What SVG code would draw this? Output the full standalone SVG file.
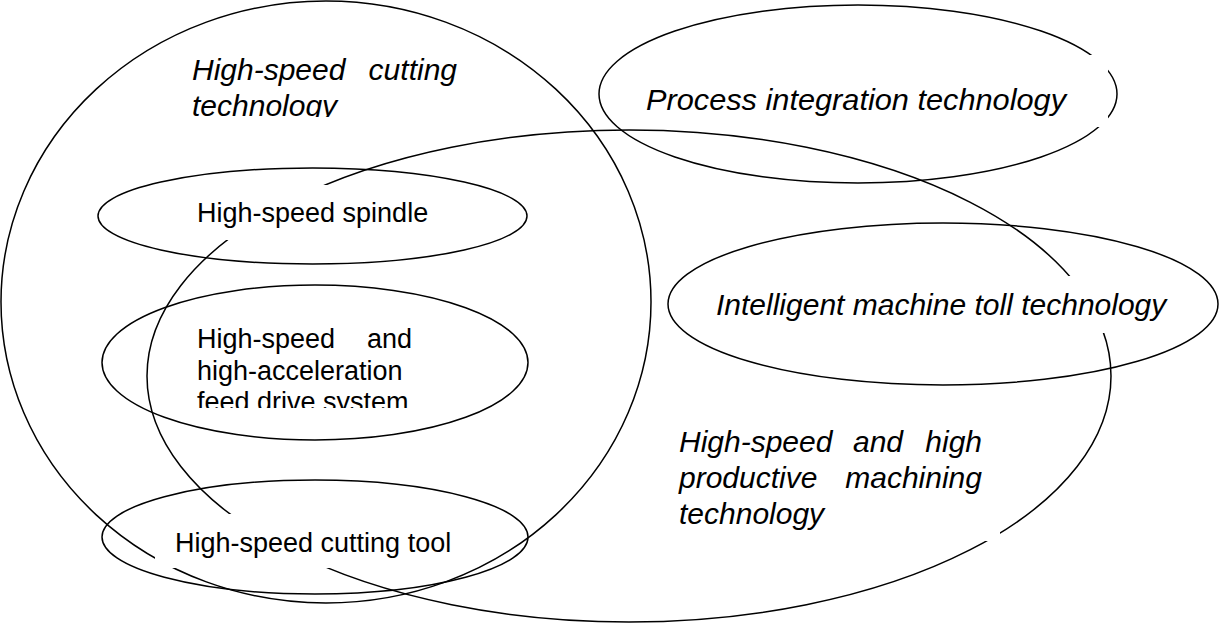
<svg xmlns="http://www.w3.org/2000/svg" width="1220" height="623" viewBox="0 0 1220 623">
<style>
.shape{fill:none;stroke:#000;stroke-width:1.5}
.lbl{font-family:"Liberation Sans",Arial,sans-serif;font-size:27px;fill:#000}
.it{font-family:"Liberation Sans",Arial,sans-serif;font-size:30px;font-style:italic;fill:#000}
</style>
<defs>
<mask id="boxes" maskUnits="userSpaceOnUse" x="0" y="0" width="1220" height="623">
<rect x="0" y="0" width="1220" height="623" fill="#fff"/>
<rect x="222" y="185" width="218" height="55" fill="#000"/>
<rect x="705" y="276" width="475" height="57" fill="#000"/>
<rect x="155" y="514" width="305" height="54" fill="#000"/>
<rect x="672" y="420" width="328" height="121" fill="#000"/>
<rect x="640" y="55" width="468" height="72" fill="#000"/>
</mask>
<clipPath id="clipTech"><rect x="180" y="40" width="300" height="77"/></clipPath>
<clipPath id="clipFeed"><rect x="190" y="315" width="240" height="93"/></clipPath>
</defs>
<rect width="1220" height="623" fill="#fff"/>
<g id="cutting-technology">
<ellipse class="shape" cx="326" cy="302" rx="325" ry="301" mask="url(#boxes)"/>
<g clip-path="url(#clipTech)">
<text class="it" x="192" y="80">High-speed</text>
<text class="it" x="457" y="80" text-anchor="end">cutting</text>
<text class="it" x="192" y="116">technology</text>
</g>
</g>
<g id="productive-machining">
<ellipse class="shape" cx="629" cy="376" rx="482" ry="246" mask="url(#boxes)"/>
<text class="it" x="679" y="452">High-speed</text>
<text class="it" x="853" y="452">and</text>
<text class="it" x="982" y="452" text-anchor="end">high</text>
<text class="it" x="679" y="488">productive</text>
<text class="it" x="982" y="488" text-anchor="end">machining</text>
<text class="it" x="679" y="524">technology</text>
</g>
<g id="process-integration">
<ellipse class="shape" cx="858" cy="94" rx="259" ry="89" mask="url(#boxes)"/>
<text class="it" x="646" y="110" textLength="420" lengthAdjust="spacingAndGlyphs">Process integration technology</text>
</g>
<g id="intelligent-machine">
<ellipse class="shape" cx="943" cy="304" rx="275" ry="81"/>
<text class="it" x="716" y="315">Intelligent machine toll technology</text>
</g>
<g id="spindle">
<ellipse class="shape" cx="312.5" cy="216" rx="214.5" ry="48"/>
<text class="lbl" x="197" y="222">High-speed spindle</text>
</g>
<g id="feed-drive">
<ellipse class="shape" cx="315" cy="362.5" rx="213" ry="77.5"/>
<g clip-path="url(#clipFeed)">
<text class="lbl" x="197" y="348">High-speed</text>
<text class="lbl" x="412" y="348" text-anchor="end">and</text>
<text class="lbl" x="197" y="380">high-acceleration</text>
<text class="lbl" x="197" y="411">feed drive system</text>
</g>
</g>
<g id="cutting-tool">
<ellipse class="shape" cx="315" cy="537" rx="213" ry="57"/>
<text class="lbl" x="175" y="552">High-speed cutting tool</text>
</g>
<g id="connectors"/>
</svg>
